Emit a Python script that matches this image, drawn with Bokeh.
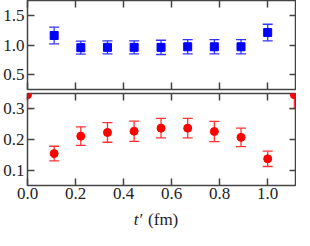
from bokeh.plotting import figure
from bokeh.layouts import column
from bokeh.models import (Range1d, LinearAxis, FixedTicker, PrintfTickFormatter,
                          Whisker, TeeHead, ColumnDataSource, CustomLabelingPolicy)
from bokeh.core.properties import value
from bokeh.embed import file_html
from bokeh.resources import INLINE

# ---- data ----
t_blue = [0.111, 0.222, 0.333, 0.444, 0.556, 0.667, 0.778, 0.889, 1.0]
v_blue = [1.16, 0.955, 0.96, 0.96, 0.96, 0.97, 0.97, 0.97, 1.21]
e_blue = [0.14, 0.11, 0.11, 0.11, 0.12, 0.12, 0.12, 0.12, 0.14]

t_red = [0.0, 0.111, 0.222, 0.333, 0.444, 0.556, 0.667, 0.778, 0.889, 1.0, 1.111]
v_red = [0.346, 0.154, 0.211, 0.223, 0.227, 0.237, 0.237, 0.226, 0.207, 0.137, 0.346]
e_red = [0.045, 0.024, 0.03, 0.032, 0.033, 0.032, 0.032, 0.033, 0.03, 0.025, 0.045]

x_ticks = [0.0, 0.2, 0.4, 0.6, 0.8, 1.0]
y_ticks_top = [0.5, 1.0, 1.5]
y_ticks_bot = [0.1, 0.2, 0.3]

FONT = "Liberation Serif"
FRAME = "#444444"
FW = 269
LB = 25

xr = Range1d(0.0, 1.12)


def style_axis(ax, ticks, labels, standoff=0):
    ax.ticker = FixedTicker(ticks=ticks)
    ax.axis_line_color = None
    ax.major_tick_in = 7
    ax.major_tick_out = 0
    ax.minor_tick_line_color = None
    ax.major_tick_line_color = FRAME
    ax.major_tick_line_width = 1.5
    ax.formatter = PrintfTickFormatter(format="%.1f")
    if labels:
        ax.major_label_text_font = FONT
        ax.major_label_text_font_size = "17px"
        ax.major_label_text_color = "#222222"
        ax.major_label_standoff = standoff
    else:
        ax.major_label_text_font_size = "0px"
        ax.major_label_standoff = 0
        ax.major_label_policy = CustomLabelingPolicy(code="return new Set()")


def make_fig(fh, yr, yticks, show_x_labels, mb_top, mb_bottom):
    p = figure(frame_width=FW, frame_height=fh, x_range=xr, y_range=yr,
               output_backend="svg", toolbar_location=None,
               min_border_top=mb_top, min_border_bottom=mb_bottom,
               min_border_left=LB, min_border_right=0)
    p.grid.visible = False
    p.outline_line_color = FRAME
    p.outline_line_width = 1.5
    p.background_fill_color = "white"
    p.border_fill_color = "white"
    style_axis(p.xaxis[0], x_ticks, show_x_labels, standoff=2)
    style_axis(p.yaxis[0], yticks, True, standoff=3)
    top = LinearAxis()
    style_axis(top, x_ticks, False)
    p.add_layout(top, "above")
    right = LinearAxis()
    style_axis(right, yticks, False)
    p.add_layout(right, "right")
    return p


p1 = make_fig(89, Range1d(0.25, 1.75), y_ticks_top, False, 0, 2)
p2 = make_fig(92, Range1d(0.05, 0.35), y_ticks_bot, True, 2, 22)

# top panel: blue squares
src_b = ColumnDataSource(dict(x=t_blue, y=v_blue,
                              lo=[v - e for v, e in zip(v_blue, e_blue)],
                              hi=[v + e for v, e in zip(v_blue, e_blue)]))
wb = Whisker(base="x", lower="lo", upper="hi", source=src_b,
             line_color="#3333ff", line_width=1.3,
             upper_head=TeeHead(size=10, line_color="#3333ff", line_width=1.3),
             lower_head=TeeHead(size=10, line_color="#3333ff", line_width=1.3))
p1.add_layout(wb)
p1.scatter("x", "y", source=src_b, marker="square", size=8,
           fill_color="#0000ff", line_color="#0000ff")

# bottom panel: red circles
src_r = ColumnDataSource(dict(x=t_red, y=v_red,
                              lo=[v - e for v, e in zip(v_red, e_red)],
                              hi=[v + e for v, e in zip(v_red, e_red)]))
wr = Whisker(base="x", lower="lo", upper="hi", source=src_r,
             line_color="#ff3333", line_width=1.3,
             upper_head=TeeHead(size=10, line_color="#ff3333", line_width=1.3),
             lower_head=TeeHead(size=10, line_color="#ff3333", line_width=1.3))
p2.add_layout(wr)
p2.scatter("x", "y", source=src_r, marker="circle", size=8,
           fill_color="#ff0000", line_color="#ff0000")

# strip below for the x-axis title "t′ (fm)" (italic t)
p3 = figure(frame_width=FW, frame_height=23, x_range=xr, y_range=Range1d(0, 23),
            output_backend="svg", toolbar_location=None,
            x_axis_type=None, y_axis_type=None,
            min_border_top=0, min_border_bottom=0,
            min_border_left=LB, min_border_right=0)
p3.grid.visible = False
p3.outline_line_color = None
p3.text(x=[0.442], y=[11], text=["t′"], text_font=value(FONT),
        text_font_style="italic", text_font_size="17px", text_color="#222222",
        text_baseline="middle", text_align="left")
p3.text(x=[0.502], y=[11], text=["(fm)"], text_font=value(FONT),
        text_font_size="17px", text_color="#222222",
        text_baseline="middle", text_align="left")

layout = column(p1, p2, p3, spacing=0)
open("out.html", "w").write(file_html(layout, INLINE))
